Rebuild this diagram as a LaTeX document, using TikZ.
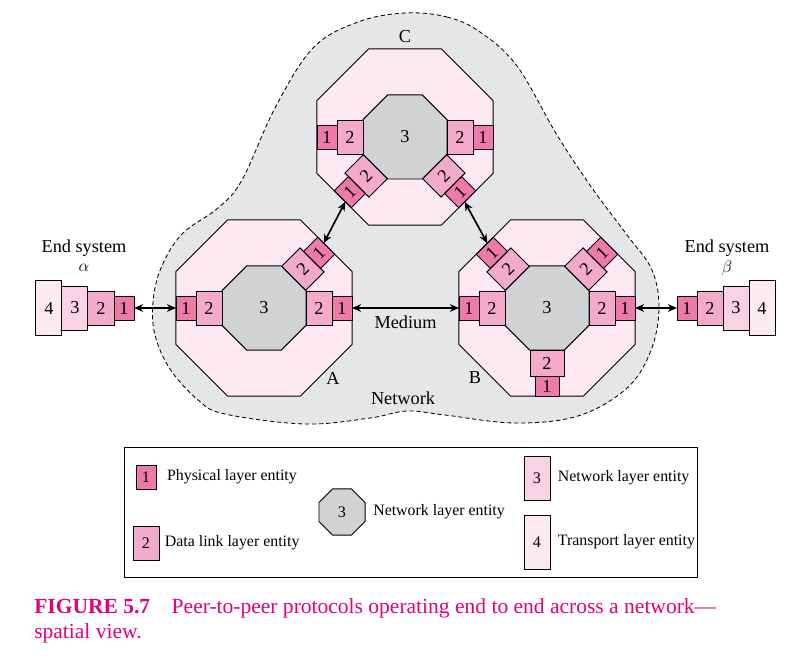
\documentclass[tikz,border=0pt]{standalone}
\usepackage{fontspec}
\setmainfont{Liberation Serif}
\usetikzlibrary{shapes.geometric,positioning,arrows.meta,calc}

\definecolor{physc}{RGB}{237,122,168}
\definecolor{linkc}{RGB}{244,170,203}
\definecolor{netc}{RGB}{249,211,228}
\definecolor{tranc}{RGB}{253,233,242}
\definecolor{corec}{RGB}{209,210,212}
\definecolor{cloudc}{RGB}{229,230,232}
\definecolor{capc}{RGB}{228,0,124}

\tikzset{
  lay/.style={draw, line width=0.7pt, inner sep=0pt, outer sep=0pt, font=\fontsize{13}{13}\selectfont},
  lay1/.style={lay, fill=physc, minimum width=0.5cm, minimum height=0.6cm},
  lay2/.style={lay, fill=linkc, minimum width=0.65cm, minimum height=0.85cm},
  lay3/.style={lay, fill=netc, minimum width=0.65cm, minimum height=1.1cm},
  lay4/.style={lay, fill=tranc, minimum width=0.65cm, minimum height=1.35cm},
  lay1v/.style={lay1, minimum width=0.6cm, minimum height=0.5cm},
  lay2v/.style={lay2, minimum width=0.85cm, minimum height=0.65cm},
  router/.style={regular polygon, regular polygon sides=8, draw, line width=0.7pt, fill=tranc,
    inner sep=0pt, outer sep=0pt, minimum size=4.7625cm},
  core/.style={regular polygon, regular polygon sides=8, draw, line width=0.7pt, fill=corec,
    inner sep=0pt, outer sep=0pt, minimum size=2.273cm, font=\fontsize{13}{13}\selectfont},
  lbl/.style={inner sep=0pt, font=\fontsize{13}{15}\selectfont},
  keytxt/.style={inner sep=0pt, font=\fontsize{11.3}{13}\selectfont},
  link/.style={{Stealth[length=6.5pt,width=5.5pt]}-{Stealth[length=6.5pt,width=5.5pt]}, line width=1.2pt}
}

\begin{document}
\begin{tikzpicture}[x=0.025cm, y=-0.025cm]
  \useasboundingbox (0,0) rectangle (811,663);
  % Nettverksskyen
  \draw[dash pattern=on 3pt off 2pt, line width=0.6pt, fill=cloudc] plot[smooth cycle, tension=0.6] coordinates {
    (405,13) (447,17) (480,32) (517,66) (557,135) (592,188) (627,235) (652,270) (659,310)
    (650,353) (626,389) (578,416) (515,423) (445,415) (407,411) (370,418) (305,424)
    (225,414) (198,400) (170,369) (155,335) (153,302) (161,268) (182,234) (218,208)
    (242,180) (275,108) (313,48) (358,22)};
  \node[lbl] at (405,37) {C};
  \node[lbl] at (333,378) {A};
  \node[lbl] at (475,378) {B};
  \node[lbl] at (403,398) {Network};

  % Ruter A
  \node[router] (A) at (264,308) {};
  \node[core] (A3) at (A) {3};
  \node[lay1] (a1L) at (186,308) {1};
  \node[lay2] (a2L) at (209,308) {2};
  \node[lay2] (a2R) at (319,308) {2};
  \node[lay1] (a1R) at (342,308) {1};
  \node[lay2, rotate=45] (a2D) at (302.9,269.1) {2};
  \node[lay1, rotate=45] (a1D) at (319.15,252.85) {1};

  % Ruter B
  \node[router] (B) at (547,308) {};
  \node[core] (B3) at (B) {3};
  \node[lay1] (b1L) at (469,308) {1};
  \node[lay2] (b2L) at (492,308) {2};
  \node[lay2] (b2R) at (602,308) {2};
  \node[lay1] (b1R) at (625,308) {1};
  \node[lay2v, rotate=45] (b2U) at (508.1,269.1) {2};
  \node[lay1v, rotate=45] (b1U) at (491.85,252.85) {1};
  \node[lay2, rotate=45] (b2E) at (585.9,269.1) {2};
  \node[lay1, rotate=45] (b1E) at (602.15,252.85) {1};
  \node[lay2v] (b2S) at (547,363) {2};
  \node[lay1v] (b1S) at (547,386) {1};

  % Ruter C
  \node[router] (C) at (405,137) {};
  \node[core] (C3) at (C) {3};
  \node[lay1] (c1L) at (327,137) {1};
  \node[lay2] (c2L) at (350,137) {2};
  \node[lay2] (c2R) at (460,137) {2};
  \node[lay1] (c1R) at (483,137) {1};
  \node[lay2, rotate=45] (c2W) at (366.1,175.9) {2};
  \node[lay1, rotate=45] (c1W) at (349.85,192.15) {1};
  \node[lay2v, rotate=45] (c2E) at (443.9,175.9) {2};
  \node[lay1v, rotate=45] (c1E) at (460.15,192.15) {1};

  % Endesystem alpha
  \node[lay1] (al1) at (124,308) {1};
  \node[lay2, left=0pt of al1] (al2) {2};
  \node[lay3, left=0pt of al2] (al3) {3};
  \node[lay4, left=0pt of al3] (al4) {4};
  \node[lbl] at (84,248) {End system};
  \node[lbl] at (84,268) {$\alpha$};

  % Endesystem beta
  \node[lay1] (be1) at (687,308) {1};
  \node[lay2, right=0pt of be1] (be2) {2};
  \node[lay3, right=0pt of be2] (be3) {3};
  \node[lay4, right=0pt of be3] (be4) {4};
  \node[lbl] at (727,248) {End system};
  \node[lbl] at (727,268) {$\beta$};

  % Forbindelser
  \draw[link] (al1) -- (a1L);
  \draw[link] (a1R) -- node[lbl, below=5pt] {Medium} (b1L);
  \draw[link] (b1R) -- (be1);
  \draw[link] ($(c1W.west)!0.3!(c1W.south west)$) -- ($(a1D.east)!0.3!(a1D.north east)$);
  \draw[link] ($(c1E.south)!0.3!(c1E.south west)$) -- ($(b1U.north)!0.3!(b1U.north east)$);

  % Tegnforklaring
  \draw[line width=0.7pt] (124,447) rectangle (697,577);
  \node[lay1, font=\fontsize{11.5}{12}\selectfont] (k1) at (146,477) {1};
  \node[keytxt, right=0.27cm of k1] {Physical layer entity};
  \node[lay2, font=\fontsize{11.5}{12}\selectfont] (k2) at (146,543) {2};
  \node[keytxt, right=0.14cm of k2] {Data link layer entity};
  \node[core, minimum size=1.245cm, font=\fontsize{11.5}{12}\selectfont] (k3) at (342,512) {3};
  \node[keytxt, right=0.2cm of k3] {Network layer entity};
  \node[lay3, font=\fontsize{11.5}{12}\selectfont] (k4) at (537,478) {3};
  \node[keytxt, right=0.19cm of k4] {Network layer entity};
  \node[lay4, font=\fontsize{11.5}{12}\selectfont] (k5) at (537,542) {4};
  \node[keytxt, right=0.19cm of k5] {Transport layer entity};

  % Figurtekst
  \node[anchor=base west, inner sep=0pt, text=capc, font=\fontsize{15.3}{18}\selectfont] (cap1) at (34,613)
    {\textbf{FIGURE 5.7}\hspace{1em}Peer-to-peer protocols operating end to end across a network---};
  \node[anchor=base west, inner sep=0pt, text=capc, font=\fontsize{15.3}{18}\selectfont] (cap2) at (34,638)
    {spatial view.};
\end{tikzpicture}
\end{document}
